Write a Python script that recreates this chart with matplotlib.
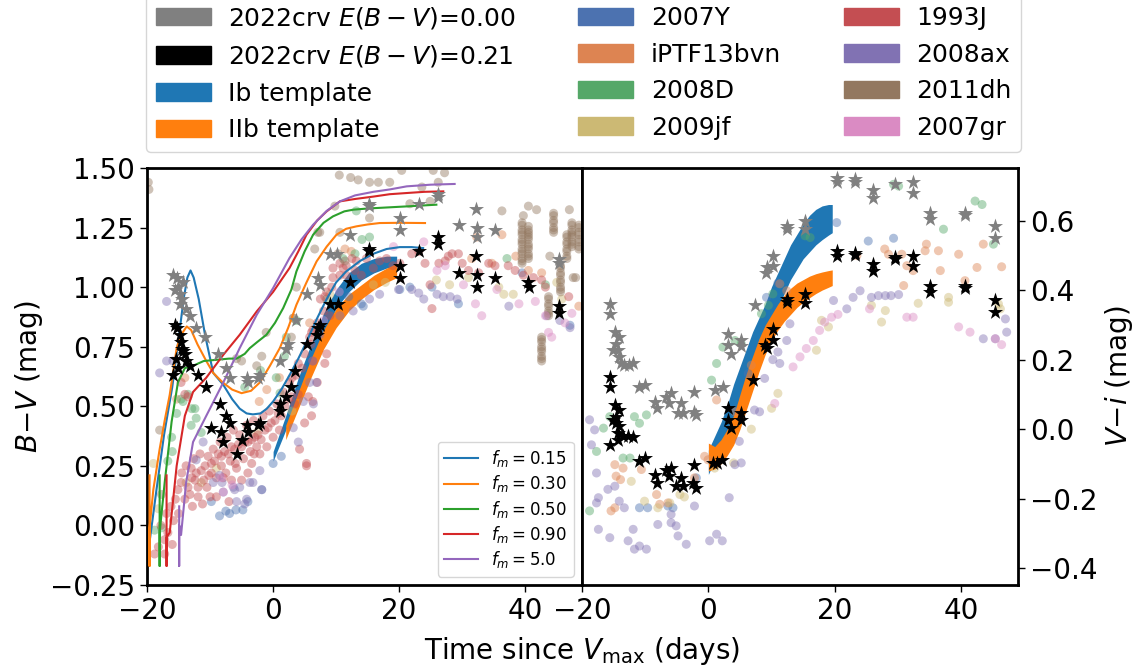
import numpy as np
import matplotlib
matplotlib.use("Agg")
import matplotlib.pyplot as plt
import matplotlib.patches as mpatches

# ---------------------------------------------------------------------------
# Colours
# ---------------------------------------------------------------------------
sn_colors = {
    "2007Y": "#4C72B0", "iPTF13bvn": "#DD8452", "2008D": "#55A868",
    "2009jf": "#CCB974", "1993J": "#C44E52", "2008ax": "#8172B3",
    "2011dh": "#937860", "2007gr": "#DA8BC3",
}

# ---------------------------------------------------------------------------
# B-V panel: 2022crv (stars)
# ---------------------------------------------------------------------------
crv_bv_t = [-15.6, -15.3, -14.8, -14.5, -14.3, -14.0, -13.8, -13.2, -15.9, -15.1,
            -11.9, -10.6, -8.5, -7.4, -6.9, -9.8, -8.2, -7.9, -5.8, -5.0, -4.2,
            -4.0, -2.4, -2.1, 1.1, 1.1, 2.1, 2.9, 3.4, 5.3, 6.9, 7.1, 7.4, 9.0,
            10.3, 12.2, 15.2, 15.2, 20.2, 20.2, 23.2, 26.2, 26.2, 29.5, 32.2,
            32.3, 32.3, 35.2, 40.5, 40.6, 45.4, 45.4, -14.6, -15.4]
crv_bv_red = [0.84, 0.83, 0.80, 0.74, 0.73, 0.72, 0.69, 0.67, 0.63, 0.66,
              0.63, 0.58, 0.51, 0.46, 0.43, 0.41, 0.39, 0.35, 0.30, 0.36, 0.42,
              0.39, 0.42, 0.43, 0.48, 0.51, 0.54, 0.58, 0.65, 0.76, 0.80, 0.83,
              0.84, 0.93, 0.93, 1.02, 1.16, 1.15, 1.09, 1.04, 1.15, 1.21, 1.18,
              1.06, 1.13, 1.05, 1.00, 1.04, 1.02, 1.00, 0.92, 0.89, 0.77, 0.70]
crv_bv_t0 = [-15.9, -15.3, -15.1, -14.8, -14.8, -14.3, -13.8, -13.2, -12.2, -10.8,
             -8.7, -7.4, -6.9, -4.2, -4.0, -2.4, -2.1, 1.1, 2.1, 2.4, 3.7, 5.3,
             7.1, 7.4, 9.0, 10.1, 12.2, 15.2, 15.2, 20.2, 20.2, 23.2, 26.2, 26.2,
             29.5, 32.2, 32.3, 32.3, 35.2, 45.4, 45.4, -15.6, -14.5]
crv_bv_raw = [1.05, 1.04, 1.00, 0.97, 0.93, 1.02, 0.91, 0.88, 0.83, 0.79,
              0.72, 0.66, 0.62, 0.62, 0.60, 0.62, 0.63, 0.69, 0.74, 0.76, 0.86,
              0.97, 1.04, 1.01, 1.14, 1.14, 1.22, 1.35, 1.34, 1.29, 1.24, 1.35,
              1.39, 1.38, 1.26, 1.33, 1.25, 1.21, 1.24, 1.12, 1.10, 0.99, 0.95]

# ---------------------------------------------------------------------------
# B-V panel: comparison SNe
# ---------------------------------------------------------------------------
bv_1993J_t = [-18.8, -18.2, -17.2, -17.2, -16.7, -16.9, -15.5, -15.1, -14.6, -14.0,
              -13.5, -12.9, -12.4, -12.2, -11.9, -11.9, -11.4, -10.8, -10.5, -10.3,
              -9.8, -9.8, -9.3, -8.7, -8.2, -8.2, -7.7, -7.1, -6.6, -6.6, -6.1,
              -5.5, -5.0, -5.0, -4.5, -4.0, -4.0, -3.4, -3.4, -2.9, -2.4, -2.1,
              -1.9, -1.3, -0.8, -0.3, 0.3, 0.8, 1.3, 1.9, 2.4, 2.9, 3.4, 4.0,
              5.6, 6.1, 5.0, 4.2, 5.3, -14.6, -14.0, -13.5, -13.0, -11.0, -9.0,
              -7.5, -6.0, -3.0, -1.0, 0.0, 1.0, -15.8, -12.8, -10.0, -7.0,
              -16.2, -15.0, -14.5, -13.8, -13.2, -12.6, -11.6, -11.2, -10.2, -9.5,
              -9.0, -8.4, -7.9, -7.3, -6.8, -6.3, -5.8, -5.3, -4.7, -4.2, -3.6,
              -3.1, -2.6, -1.6, -0.6, 0.6, 1.6, 2.6, 3.6, 4.6, -17.8, -16.0,
              3.0, 4.0, 5.0, 6.0, 7.0,
              6.3, 8.5, 9.5, 10.6, 11.1, 11.6, 13.2, 14.8, 16.9, 18.0, 19.0, 20.1,
              22.0, 23.1, 24.1, 25.2, 26.3, 27.3, 27.8, 28.4, 29.4, 30.0, 31.0,
              32.6, 34.2, 35.2, 37.3, 38.4, 39.7, 41.3, 42.6, 43.2, 46.9, 24.9,
              8.5, 6.3, 5.8, 9.5, 10.6, 11.6, 13.0, 15.9, 5.3, 6.3, 7.0, 8.0,
              7.5, 9.0, 12.5, 14.0, 9.3, 8.2, 6.1, 7.1, 8.2]
bv_1993J = [-0.12, -0.09, -0.06, -0.12, -0.03, 0.05, 0.11, 0.15, 0.18, 0.11,
            0.16, 0.20, 0.19, 0.22, 0.16, 0.12, 0.23, 0.25, 0.16, 0.29,
            0.26, 0.22, 0.27, 0.30, 0.29, 0.25, 0.31, 0.30, 0.33, 0.19, 0.32,
            0.34, 0.33, 0.19, 0.35, 0.35, 0.22, 0.36, 0.26, 0.37, 0.38, 0.30,
            0.36, 0.40, 0.41, 0.43, 0.44, 0.47, 0.46, 0.50, 0.53, 0.54, 0.51, 0.55,
            0.54, 0.46, 0.43, 0.32, 0.25, 0.60, 0.55, 0.54, 0.24, 0.19, 0.20,
            0.22, 0.26, 0.30, 0.33, 0.37, 0.40, 0.02, 0.08, 0.12, 0.10,
            0.08, 0.05, 0.22, 0.25, 0.13, 0.28, 0.30, 0.09, 0.21, 0.32,
            0.12, 0.35, 0.20, 0.37, 0.27, 0.40, 0.24, 0.38, 0.28, 0.42, 0.31,
            0.44, 0.33, 0.46, 0.48, 0.51, 0.56, 0.60, 0.63, 0.66, 0.0, -0.08,
            0.62, 0.68, 0.72, 0.76, 0.85,
            0.82, 0.98, 1.04, 1.05, 1.08, 1.09, 1.11, 1.12, 1.11, 1.12, 1.09, 1.10,
            1.14, 1.15, 1.10, 0.91, 1.10, 1.11, 1.13, 1.14, 1.14, 1.10, 1.07,
            1.06, 1.10, 1.09, 1.09, 1.07, 1.05, 1.04, 1.03, 1.00, 0.96, 1.01,
            0.72, 0.69, 0.79, 1.08, 1.10, 1.05, 1.07, 1.08, 0.26, 0.52, 0.60, 0.90,
            0.95, 0.88, 1.12, 1.05, 1.00, 0.96, 0.81, 0.82, 0.68]

bv_2011dh_t = [-19.8, -19.7, -18.0, -17.7, -5.8, -5.0, -2.6, -1.8, -1.1, 2.9, 3.2,
               3.7, 6.6, 7.1, 7.4, 9.8, 10.3, 10.5, 10.6, 11.4, 12.3, 13.5, 15.3,
               15.3, 16.7, 18.5, 20.4, 21.7, 24.9, 25.4, 27.2, 26.2, 23.6, 36.3,
               40.5, 41.8, 39.7, 47.0, 43.9, 48.0, 47.6] + \
              [39.5] * 14 + [40.5] * 12 + [44.5] * 7 + [45.6] * 9 + [47.4] * 9 + \
              [48.5] * 8 + [43.7] * 7 + [42.6] * 9 + [46.6] * 8
bv_2011dh = [1.44, 1.41, 0.40, 0.13, 0.70, 0.69, 0.67, 0.71, 0.81, 0.79, 0.87,
             1.00, 1.16, 1.23, 1.23, 1.34, 1.14, 1.47, 1.23, 1.11, 1.46, 1.45, 1.44,
             1.29, 1.44, 1.44, 1.49, 1.35, 1.36, 1.49, 1.48, 1.44, 1.42, 1.32,
             1.34, 1.325, 1.30, 1.325, 1.13, 1.04, 1.04] + \
            [1.10, 1.11, 1.12, 1.14, 1.15, 1.16, 1.18, 1.19, 1.20, 1.22, 1.23, 1.24, 1.26, 1.27] + \
            [1.12, 1.13, 1.14, 1.16, 1.17, 1.18, 1.20, 1.21, 1.22, 1.23, 1.24, 1.255] + \
            [1.23, 1.24, 1.25, 1.27, 1.28, 1.30, 1.31] + \
            [0.98, 0.99, 1.00, 1.02, 1.03, 1.05, 1.06, 1.08, 1.09] + \
            [1.17, 1.18, 1.19, 1.21, 1.22, 1.23, 1.24, 1.26, 1.27] + \
            [1.16, 1.17, 1.19, 1.20, 1.22, 1.23, 1.25, 1.26] + \
            [0.88, 0.89, 0.90, 0.92, 0.93, 0.95, 0.96] + \
            [0.69, 0.70, 0.71, 0.73, 0.74, 0.75, 0.77, 0.78, 0.79] + \
            [1.12, 1.13, 1.15, 1.16, 1.18, 1.19, 1.21, 1.22]

bv_2007Y_t = [-9.8, -6.9, -5.9, -4.8, -4.0, -1.8, 0.0, 1.3, 14.0, 14.3, 20.1, 21.7,
              25.2, 29.4, 39.5, 47.1, 12.0, -8.5, -7.5]
bv_2007Y = [0.10, 0.05, 0.065, 0.065, 0.10, 0.15, 0.26, 0.29, 0.93, 0.92, 0.99, 1.00,
            1.00, 0.93, 1.06, 0.84, 0.96, 0.04, 0.06]

bv_2008ax_t = [-16.9, -16.9, -18.0, -15.9, -9.5, -8.5, -7.9, -6.3, -5.8, -5.3, -4.2,
               -3.7, -12.2, -11.1, -8.1, -6.1, -4.5, -3.2, -2.1, -1.8, 4.0, 3.2,
               4.8, 5.8, 6.3, 6.4, 6.9, 7.4, 10.6, 12.7, 15.3, 16.9, 19.9, 22.0,
               23.1, 23.9, 26.0, 27.0, 28.1, 29.2, 37.4, 43.4, 47.1, 45.5]
bv_2008ax = [0.94, 0.69, 0.64, 0.69, 0.18, 0.21, 0.14, 0.16, 0.10, 0.16, 0.11,
             0.18, 0.275, 0.35, 0.18, 0.15, 0.09, 0.18, 0.23, 0.15, 0.35, 0.41,
             0.52, 0.60, 0.69, 0.51, 0.60, 0.80, 0.88, 0.90, 0.95, 0.97, 0.99, 0.99,
             0.975, 0.95, 0.97, 0.96, 0.96, 0.95, 0.92, 0.88, 0.83, 0.86]

bv_2008D_t = [-18.8, -17.7, -16.7, -16.1, -15.3, -14.6, -14.3, -13.5, -12.9, -12.4,
              -12.2, -13.0, -11.4, 0.5, 1.1, 1.8, 2.1, 3.7, 8.5, 11.1, 13.0, 15.3,
              13.2, 14.1, 37.1, 43.2, -16.0, -4.5, -2.0]
bv_2008D = [-0.02, -0.01, 0.27, 0.37, 0.47, 0.53, 0.52, 0.55, 0.49, 0.49,
            0.45, 0.42, 0.39, 0.62, 0.555, 0.71, 0.79, 0.86, 0.95, 1.12, 1.14, 1.21,
            1.32, 1.20, 1.12, 1.01, 0.31, 0.58, 0.65]

bv_2009jf_t = [-19.0, -13.8, -11.4, -2.6, 15.9, 17.8, 25.9, 28.0, 35.8, 36.6, 38.1,
               45.0, 45.8, -18.2, -9.0, 3.0, 9.0, 31.0]
bv_2009jf = [0.26, 0.18, 0.18, 0.39, 1.01, 1.02, 1.03, 1.01, 1.00, 0.97, 0.97,
             1.02, 0.95, 0.07, 0.24, 0.48, 0.97, 1.04]

bv_iPTF13bvn_t = [-15.3, -14.0, 3.2, 5.8, 11.4, 12.4, 32.3, 34.7, 36.3, 40.5, 42.6,
                  48.5, -1.0, 1.0, -2.2, 31.5, 38.5]
bv_iPTF13bvn = [0.53, 0.62, 0.87, 0.85, 1.16, 1.15, 1.21, 1.10, 1.22, 1.07, 1.06,
                0.92, 0.57, 0.62, 0.52, 1.12, 1.13]

bv_2007gr_t = [-8.2, -7.9, -6.5, 19.1, 23.9, 26.0, 27.3, 30.2, 32.1, 33.1, 39.0,
               41.6, 43.2, 43.7, 44.2, 46.3, 47.4, 8.0, 10.5, 35.5]
bv_2007gr = [0.20, 0.14, 0.17, 1.17, 1.19, 1.07, 1.09, 1.01, 0.93, 0.88, 0.93,
             0.94, 0.88, 0.81, 0.79, 0.85, 0.89, 0.86, 0.98, 0.99]

# ---------------------------------------------------------------------------
# B-V panel: templates (bands) and f_m model curves
# ---------------------------------------------------------------------------
tmpl_bv_Ib_t = [0, 2, 4, 6, 8, 10, 12, 14, 16, 18, 19.6]
tmpl_bv_Ib_hi = [0.31, 0.46, 0.62, 0.76, 0.89, 0.99, 1.06, 1.10, 1.12, 1.13, 1.13]
tmpl_bv_Ib_lo = [0.27, 0.40, 0.54, 0.68, 0.80, 0.91, 0.98, 1.03, 1.06, 1.08, 1.09]
tmpl_bv_IIb_t = [2, 4, 6, 8, 10, 12, 14, 16, 18, 19.6]
tmpl_bv_IIb_hi = [0.42, 0.56, 0.70, 0.82, 0.91, 0.97, 1.01, 1.05, 1.08, 1.10]
tmpl_bv_IIb_lo = [0.36, 0.49, 0.62, 0.74, 0.83, 0.90, 0.95, 0.99, 1.02, 1.04]

fm_labels = ["$f_m = 0.15$", "$f_m = 0.30$", "$f_m = 0.50$", "$f_m = 0.90$", "$f_m = 5.0$"]
fm_colors = ["tab:blue", "tab:orange", "tab:green", "tab:red", "tab:purple"]
fm_t = [
    [-19.5, -18.5, -17.3, -16.0, -15.0, -14.2, -13.6, -13.1, -12.6, -11.8, -10.8,
     -9.5, -7.9, -6.5, -5.3, -4.2, -3.2, -2.0, -1.0, 0.0, 1.3, 2.6, 4.0, 5.3, 7.0,
     8.5, 10.0, 11.6, 13.8, 15.9, 18.0, 20.1, 22.0, 23.8],
    [-19.6, -19.6, -19.6, -19.0, -18.0, -17.2, -16.4, -15.3, -14.6, -13.7, -13.0,
     -12.0, -10.6, -9.5, -8.0, -6.5, -5.0, -3.5, -2.1, -0.5, 1.06, 2.4, 3.7, 5.3,
     6.9, 8.5, 10.05, 11.6, 13.2, 15.0, 16.9, 20.0, 24.1],
    [-18.0, -18.0, -18.0, -17.2, -16.1, -15.1, -14.0, -12.7, -11.0, -9.0, -7.0,
     -5.8, -4.5, -3.7, -2.5, -1.06, 0.3, 1.6, 2.9, 3.7, 5.0, 6.35, 8.0, 9.5, 11.3,
     12.7, 15.0, 18.5, 22.0, 25.9],
    [-16.9, -16.9, -16.9, -16.4, -15.3, -14.0, -12.7, -10.6, -7.9, -5.3, -2.6, 0.0,
     2.6, 4.0, 5.3, 7.0, 8.5, 10.6, 13.0, 15.9, 18.5, 21.2, 24.0, 27.0],
    [-14.9, -14.9, -14.9, -14.6, -13.8, -12.7, -10.6, -7.9, -5.3, -2.6, 0.0, 2.6,
     4.5, 6.35, 8.5, 10.6, 13.0, 15.9, 18.5, 21.2, 25.0, 28.8],
]
fm_bv = [
    [-0.05, 0.15, 0.38, 0.58, 0.78, 0.95, 1.04, 1.07, 1.04, 0.95, 0.80,
     0.64, 0.59, 0.53, 0.49, 0.47, 0.466, 0.47, 0.49, 0.52, 0.57, 0.63, 0.70, 0.77,
     0.87, 0.95, 1.02, 1.066, 1.11, 1.14, 1.16, 1.168, 1.168, 1.164],
    [0.21, -0.17, -0.01, 0.15, 0.32, 0.44, 0.548, 0.744, 0.80, 0.835, 0.82,
     0.76, 0.69, 0.64, 0.60, 0.57, 0.555, 0.565, 0.60, 0.67, 0.744, 0.83, 0.926,
     1.02, 1.108, 1.17, 1.22, 1.245, 1.255, 1.263, 1.269, 1.27, 1.269],
    [0.21, -0.17, -0.03, 0.18, 0.435, 0.60, 0.66, 0.67, 0.69, 0.695, 0.70,
     0.70, 0.72, 0.744, 0.77, 0.80, 0.85, 0.912, 0.99, 1.066, 1.15, 1.22, 1.27,
     1.297, 1.318, 1.325, 1.33, 1.335, 1.34, 1.346],
    [0.21, -0.17, -0.05, -0.03, 0.25, 0.46, 0.56, 0.62, 0.716, 0.80, 0.898, 0.98,
     1.08, 1.15, 1.22, 1.28, 1.318, 1.36, 1.37, 1.38, 1.39, 1.395, 1.40, 1.402],
    [0.08, -0.17, 0.0, -0.04, 0.18, 0.35, 0.46, 0.60, 0.744, 0.884, 0.996, 1.122,
     1.20, 1.262, 1.32, 1.36, 1.385, 1.40, 1.41, 1.423, 1.43, 1.433],
]

# ---------------------------------------------------------------------------
# V-i panel: 2022crv (stars)
# ---------------------------------------------------------------------------
crv_vi_t = [-15.6, -15.6, -14.8, -14.1, -14.6, -14.1, -14.3, -13.5, -12.7, -11.9,
            -15.6, -15.1, -14.6, -14.3, -10.9, -10.1, -8.5, -8.2, -6.7, -5.9, -6.2,
            -5.1, -4.3, -4.0, -2.2, -2.4, -1.9, 0.7, 1.3, 2.1, 3.1, 3.1, 3.6, 5.2,
            5.2, 7.1, 8.9, 9.2, 10.2, 10.2, 12.4, 12.4, 15.3, 15.3, 20.3, 20.3,
            23.2, 23.2, 26.1, 26.1, 29.5, 29.5, 32.3, 32.3, 35.1, 35.1, 40.6,
            40.6, 45.4, 45.4]
crv_vi_red = [0.15, 0.12, 0.07, 0.055, 0.017, 0.008, -0.011, -0.021, -0.021, -0.023,
              -0.045, 0.027, 0.035, -0.03, -0.092, -0.083, -0.131, -0.154, -0.116,
              -0.112, -0.135, -0.164, -0.14, -0.164, -0.102, -0.154, -0.169, -0.097,
              -0.097, -0.088, 0.06, 0.027, 0.003, 0.046, 0.027, 0.141, 0.241, 0.232,
              0.289, 0.255, 0.375, 0.366, 0.389, 0.362, 0.513, 0.499, 0.508, 0.501,
              0.475, 0.456, 0.494, 0.489, 0.499, 0.470, 0.413, 0.394, 0.413, 0.405,
              0.372, 0.338]
crv_vi_t0 = [-15.6, -15.6, -14.8, -14.1, -14.6, -14.3, -14.1, -13.8, -13.3, -12.5,
             -11.9, -15.1, -10.9, -10.1, -8.5, -8.2, -6.7, -5.9, -6.2, -4.8, -4.3,
             -4.0, -2.2, -2.2, -1.9, 1.0, 2.3, 3.1, 3.1, 3.6, 5.2, 5.2, 7.3, 9.1,
             9.2, 10.2, 10.2, 12.4, 12.4, 15.3, 15.3, 20.3, 20.3, 23.2, 23.2, 26.1,
             26.1, 29.5, 32.3, 32.3, 35.1, 35.1, 40.6, 40.6, 45.4, 45.4]
crv_vi_raw = [0.36, 0.332, 0.279, 0.265, 0.246, 0.227, 0.208, 0.189, 0.184, 0.184,
              0.189, 0.227, 0.122, 0.127, 0.079, 0.06, 0.093, 0.103, 0.074, 0.046,
              0.074, 0.046, 0.108, 0.05, 0.041, 0.112, 0.122, 0.275, 0.241, 0.215,
              0.255, 0.238, 0.356, 0.448, 0.465, 0.499, 0.468, 0.584, 0.576, 0.599,
              0.575, 0.723, 0.71, 0.718, 0.711, 0.689, 0.665, 0.704, 0.711, 0.68,
              0.623, 0.603, 0.623, 0.615, 0.584, 0.549]

# ---------------------------------------------------------------------------
# V-i panel: comparison SNe
# ---------------------------------------------------------------------------
vi_2008ax_t = [-18.8, -18.0, -18.5, -17.7, -17.4, -17.7, -17.4, -15.6, -14.8, -15.9,
               -14.1, -13.3, -12.7, -11.9, -11.7, -10.9, -9.8, -8.0, -5.9, -5.9,
               -5.1, -4.8, -3.5, -2.2, 0.2, 1.3, 2.2, 3.3, 4.2, 5.2, 4.9, 7.3, 8.1,
               8.9, 10.2, 11.3, 12.9, 12.4, 11.0, 19.8, 21.9, 22.9, 24.0, 25.8,
               26.9, 28.0, 28.9, 30.1, 47.0, 47.2, 43.5, 45.4]
vi_2008ax = [0.027, -0.002, -0.045, -0.126, -0.197, -0.212, -0.288, -0.312, -0.164,
             -0.173, -0.207, -0.226, -0.321, -0.288, -0.345, -0.336, -0.345, -0.274,
             -0.245, -0.269, -0.278, -0.307, -0.331, -0.221, -0.321, -0.302, -0.321,
             -0.197, -0.102, -0.097, -0.035, 0.055, 0.05, 0.146, 0.20, 0.189, 0.303,
             0.255, 0.222, 0.37, 0.346, 0.379, 0.398, 0.379, 0.384, 0.384, 0.384,
             0.387, 0.317, 0.279, 0.26, 0.26]

vi_2008D_t = [-18.8, -17.7, -16.6, -15.6, -11.7, -10.9, -9.8, -13.5, -12.4, 0.5, 1.3,
              2.3, 4.2, 5.2, 8.4, 9.5, 10.2, 15.3, 16.1, 29.3, 30.1, 37.2, 42.2,
              43.3, 45.1]
vi_2008D = [-0.235, -0.064, 0.003, 0.036, 0.036, 0.017, 0.041, -0.083, -0.083, 0.141,
            0.189, 0.236, 0.255, 0.246, 0.332, 0.356, 0.389, 0.556, 0.551, 0.704,
            0.699, 0.575, 0.656, 0.646, 0.532]

vi_iPTF13bvn_t = [-14.8, -13.5, -14.6, -15.4, -14.8, -10.6, -8.2, -7.7, -6.4, -2.2,
                  -0.6, -0.05, 1.3, 4.2, 6.8, 11.3, 12.4, 23.5, 27.9, 28.5, 30.6,
                  30.9, 31.4, 32.4, 34.5, 34.3, 36.4, 36.7, 39.6, 40.6, 42.5, 43.5,
                  46.4, -13.9]
vi_iPTF13bvn = [-0.102, -0.112, -0.135, -0.235, -0.226, -0.116, -0.188, -0.216, -0.212,
                -0.14, -0.078, -0.088, 0.084, 0.05, 0.184, 0.418, 0.398, 0.499, 0.518,
                0.503, 0.503, 0.413, 0.47, 0.456, 0.532, 0.513, 0.513, 0.456, 0.503,
                0.427, 0.465, 0.532, 0.467, -0.145]

vi_2007Y_t = [-10.9, -9.6, -6.4, -5.6, -1.9, 9.2, 20.3, 25.3, 29.3, 6.3, 11.0]
vi_2007Y = [-0.226, -0.226, -0.221, -0.226, -0.14, 0.379, 0.594, 0.541, 0.549, 0.16, 0.42]

vi_2009jf_t = [-12.2, -10.1, -8.0, -6.1, -4.5, -3.8, 1.0, 4.0, 6.8, 10.0, 11.0, 17.9,
               19.0, 17.1, 25.8, 27.4, 28.0, 33.2, 38.0, 38.0, 45.9, 46.2]
vi_2009jf = [-0.15, -0.207, -0.226, -0.212, -0.188, -0.195, -0.112, -0.097, 0.0,
             0.06, 0.103, 0.313, 0.294, 0.227, 0.356, 0.308, 0.341, 0.362, 0.379,
             0.365, 0.36, 0.346]

vi_2007gr_t = [10.5, 13.4, 14.5, 15.5, 16.6, 17.6, 18.4, 19.5, 20.5, 25.5, 31.4, 32.4,
               39.6, 41.4, 45.4, 46.4]
vi_2007gr = [0.074, 0.179, 0.208, 0.232, 0.255, 0.284, 0.308, 0.322, 0.33, 0.346,
             0.322, 0.322, 0.294, 0.279, 0.26, 0.243]

# ---------------------------------------------------------------------------
# V-i panel: templates (bands)
# ---------------------------------------------------------------------------
tmpl_vi_t = [0, 1, 2, 3, 4, 5, 6, 7, 8, 9, 10, 11, 12, 13, 14, 15, 16, 17, 18, 19, 19.6]
tmpl_vi_Ib_hi = [-0.06, -0.02, 0.02, 0.07, 0.13, 0.18, 0.23, 0.28, 0.32, 0.36, 0.41,
                 0.45, 0.49, 0.53, 0.56, 0.59, 0.615, 0.632, 0.642, 0.646, 0.646]
tmpl_vi_Ib_lo = [-0.13, -0.09, -0.05, -0.01, 0.02, 0.07, 0.12, 0.175, 0.22, 0.26, 0.30,
                 0.345, 0.39, 0.43, 0.46, 0.49, 0.51, 0.53, 0.545, 0.558, 0.565]
tmpl_vi_IIb_hi = [-0.04, -0.05, -0.03, 0.0, 0.04, 0.10, 0.16, 0.21, 0.26, 0.30, 0.33,
                  0.36, 0.385, 0.405, 0.42, 0.43, 0.44, 0.447, 0.452, 0.456, 0.458]
tmpl_vi_IIb_lo = [-0.12, -0.115, -0.10, -0.075, -0.045, 0.0, 0.055, 0.11, 0.165, 0.215,
                  0.255, 0.285, 0.31, 0.33, 0.35, 0.365, 0.378, 0.39, 0.40, 0.408, 0.413]

# ---------------------------------------------------------------------------
# Figure
# ---------------------------------------------------------------------------
plt.rcParams['font.family'] = ['DejaVu Sans']
plt.rcParams['font.size'] = 20

fig = plt.figure(figsize=(11.38, 6.72), dpi=100)
ax1 = fig.add_axes([0.1292, 0.1295, 0.3822, 0.6205])
ax2 = fig.add_axes([0.5114, 0.1295, 0.3832, 0.6205])

dot_kw = dict(s=42, alpha=0.45, edgecolors='none', zorder=2)
star_kw = dict(marker='*', s=130, zorder=5, linewidths=0)

# --- B-V panel
ax1.fill_between(tmpl_bv_Ib_t, tmpl_bv_Ib_lo, tmpl_bv_Ib_hi, color='tab:blue', lw=0, zorder=1)
ax1.fill_between(tmpl_bv_IIb_t, tmpl_bv_IIb_lo, tmpl_bv_IIb_hi, color='tab:orange', lw=0, zorder=1)

ax1.scatter(bv_2007Y_t, bv_2007Y, color=sn_colors["2007Y"], **dot_kw)
ax1.scatter(bv_iPTF13bvn_t, bv_iPTF13bvn, color=sn_colors["iPTF13bvn"], **dot_kw)
ax1.scatter(bv_2008D_t, bv_2008D, color=sn_colors["2008D"], **dot_kw)
ax1.scatter(bv_2009jf_t, bv_2009jf, color=sn_colors["2009jf"], **dot_kw)
ax1.scatter(bv_1993J_t, bv_1993J, color=sn_colors["1993J"], **dot_kw)
ax1.scatter(bv_2008ax_t, bv_2008ax, color=sn_colors["2008ax"], **dot_kw)
ax1.scatter(bv_2011dh_t, bv_2011dh, color=sn_colors["2011dh"], **dot_kw)
ax1.scatter(bv_2007gr_t, bv_2007gr, color=sn_colors["2007gr"], **dot_kw)

fm_lines = []
for t, c, col, lab in zip(fm_t, fm_bv, fm_colors, fm_labels):
    ln, = ax1.plot(t, c, color=col, lw=1.5, label=lab, zorder=3)
    fm_lines.append(ln)

ax1.scatter(crv_bv_t0, crv_bv_raw, color='gray', **star_kw)
ax1.scatter(crv_bv_t, crv_bv_red, color='black', **star_kw)

ax1.set_xlim(-20, 49)
ax1.set_ylim(-0.25, 1.5)
ax1.set_yticks([-0.25, 0.0, 0.25, 0.5, 0.75, 1.0, 1.25, 1.5])
ax1.set_xticks([-20, 0, 20, 40])
ax1.set_ylabel("$B\\mathrm{-}V$ (mag)")
ax1.legend(handles=fm_lines, loc='lower right', fontsize=12, labelspacing=0.25,
           framealpha=0.8)

# --- V-i panel
ax2.fill_between(tmpl_vi_t, tmpl_vi_Ib_lo, tmpl_vi_Ib_hi, color='tab:blue', lw=0, zorder=1)
ax2.fill_between(tmpl_vi_t, tmpl_vi_IIb_lo, tmpl_vi_IIb_hi, color='tab:orange', lw=0, zorder=1)

ax2.scatter(vi_2007Y_t, vi_2007Y, color=sn_colors["2007Y"], **dot_kw)
ax2.scatter(vi_iPTF13bvn_t, vi_iPTF13bvn, color=sn_colors["iPTF13bvn"], **dot_kw)
ax2.scatter(vi_2008D_t, vi_2008D, color=sn_colors["2008D"], **dot_kw)
ax2.scatter(vi_2009jf_t, vi_2009jf, color=sn_colors["2009jf"], **dot_kw)
ax2.scatter(vi_2008ax_t, vi_2008ax, color=sn_colors["2008ax"], **dot_kw)
ax2.scatter(vi_2007gr_t, vi_2007gr, color=sn_colors["2007gr"], **dot_kw)

ax2.scatter(crv_vi_t0, crv_vi_raw, color='gray', **star_kw)
ax2.scatter(crv_vi_t, crv_vi_red, color='black', **star_kw)

ax2.set_xlim(-20, 49)
ax2.set_ylim(-0.448, 0.751)
ax2.set_xticks([-20, 0, 20, 40])
ax2.set_yticks([-0.4, -0.2, 0.0, 0.2, 0.4, 0.6])
ax2.yaxis.tick_right()
ax2.yaxis.set_label_position('right')
ax2.set_ylabel("$V\\mathrm{-}i$ (mag)")

for ax in (ax1, ax2):
    for sp in ax.spines.values():
        sp.set_linewidth(2.0)
    ax.tick_params(labelsize=20, length=5, width=1)

fig.text(0.5114, 0.031, "Time since $V_{\\rm max}$ (days)", ha='center', va='center', fontsize=20)

# --- top legend
legend_names = ["2022crv $E(B-V)$=0.00", "2022crv $E(B-V)$=0.21", "Ib template",
                "IIb template", "2007Y", "iPTF13bvn", "2008D", "2009jf",
                "1993J", "2008ax", "2011dh", "2007gr"]
legend_cols = ["gray", "black", "tab:blue", "tab:orange",
               sn_colors["2007Y"], sn_colors["iPTF13bvn"], sn_colors["2008D"],
               sn_colors["2009jf"], sn_colors["1993J"], sn_colors["2008ax"],
               sn_colors["2011dh"], sn_colors["2007gr"]]
handles = [mpatches.Patch(color=c, label=n) for n, c in zip(legend_names, legend_cols)]
fig.legend(handles=handles, ncol=3, loc='upper left', bbox_to_anchor=(0.128, 1.008),
           fontsize=18, handlelength=2.2, handleheight=0.7, columnspacing=2.5,
           handletextpad=0.7, labelspacing=0.5, borderaxespad=0.0, framealpha=0.8)

fig.savefig("out.png", dpi=100)
